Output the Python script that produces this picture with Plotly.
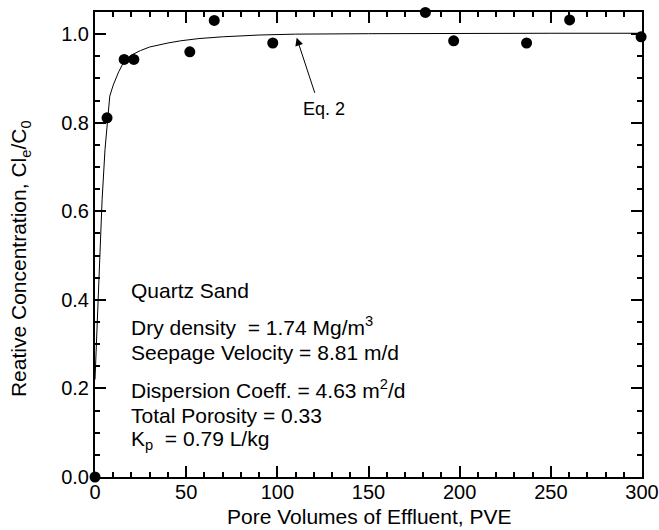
import plotly.graph_objects as go

# Measured data points
pve = [0, 6.6, 16, 21.3, 52, 65.4, 97.5, 181.2, 196.7, 236.7, 260.3, 299.5]
conc = [0.0, 0.811, 0.943, 0.943, 0.960, 1.031, 0.980, 1.049, 0.985, 0.980, 1.032, 0.994]

# Eq. 2 model curve
curve_x = [0, 2, 3.9, 5.5, 6.6, 8.1, 10, 13, 16, 20, 25, 30, 40, 47, 57, 70, 90, 110, 150, 200, 250, 300]
curve_y = [0.22, 0.45, 0.627, 0.74, 0.80, 0.86, 0.885, 0.915, 0.939, 0.953, 0.963, 0.971, 0.980, 0.985, 0.990, 0.994, 0.998, 1.0, 1.001, 1.002, 1.002, 1.002]

x_ticks = [0, 50, 100, 150, 200, 250, 300]
y_ticks = [0.0, 0.2, 0.4, 0.6, 0.8, 1.0]

FONT = "Liberation Sans, Arial, sans-serif"
FS = 21

fig = go.Figure()
fig.add_trace(go.Scatter(x=curve_x, y=curve_y, mode="lines",
                         line=dict(color="black", width=1), hoverinfo="skip",
                         showlegend=False))
fig.add_trace(go.Scatter(x=pve, y=conc, mode="markers",
                         marker=dict(color="black", size=11),
                         cliponaxis=False, showlegend=False))

axis_common = dict(showline=True, linecolor="black", linewidth=2, mirror="ticks",
                   ticks="inside", tickcolor="black", tickwidth=2, ticklen=11,
                   showgrid=False, zeroline=False, ticklabeloverflow="allow",
                   automargin=False,
                   tickfont=dict(family=FONT, size=20, color="black"))

fig.update_xaxes(range=[0, 300], tickvals=x_ticks, ticktext=[str(v) for v in x_ticks],
                 minor=dict(dtick=10, ticks="inside", ticklen=5, tickwidth=2, tickcolor="black"),
                 ticklabelstandoff=-4,
                 **axis_common)
fig.update_yaxes(range=[0, 1.05], tickvals=y_ticks, ticktext=[f"{v:.1f}" for v in y_ticks],
                 minor=dict(dtick=0.05, ticks="inside", ticklen=5, tickwidth=2, tickcolor="black"),
                 **axis_common)

ann_font = dict(family=FONT, size=FS, color="black")
text_lines = [
    ("Quartz Sand", 0.421),
    ("Dry density  = 1.74 Mg/m<sup>3</sup>", 0.340),
    ("Seepage Velocity = 8.81 m/d", 0.281),
    ("Dispersion Coeff. = 4.63 m<sup>2</sup>/d", 0.199),
    ("Total Porosity = 0.33", 0.140),
    ("K<sub>p</sub>  = 0.79 L/kg", 0.084),
]
annotations = []
for txt, yy in text_lines:
    annotations.append(dict(x=18.8, y=yy, xref="x", yref="y", text=txt, showarrow=False,
                            xanchor="left", yanchor="middle", font=ann_font))

annotations.append(dict(x=110.6, y=0.992, ax=120.8, ay=0.864, xref="x", yref="y",
                        axref="x", ayref="y", text="", showarrow=True, arrowhead=2,
                        arrowsize=1.6, arrowwidth=1, arrowcolor="black"))
annotations.append(dict(x=125.7, y=0.832, xref="x", yref="y", text="Eq. 2", showarrow=False,
                        xanchor="center", yanchor="middle",
                        font=dict(family=FONT, size=18, color="black")))
annotations.append(dict(x=-0.136, y=0.47, xref="paper", yref="paper",
                        text="Reative Concentration, Cl<sub>e</sub>/C<sub>0</sub>",
                        textangle=-90, showarrow=False, xanchor="center", yanchor="middle",
                        font=ann_font))
annotations.append(dict(x=0.5, y=-0.084, xref="paper", yref="paper",
                        text="Pore Volumes of Effluent, PVE",
                        showarrow=False, xanchor="center", yanchor="middle",
                        font=ann_font))

fig.update_layout(width=659, height=530, margin=dict(l=94.5, r=17, t=12, b=53),
                  plot_bgcolor="white", paper_bgcolor="white",
                  annotations=annotations)

fig.write_html("out.html")
